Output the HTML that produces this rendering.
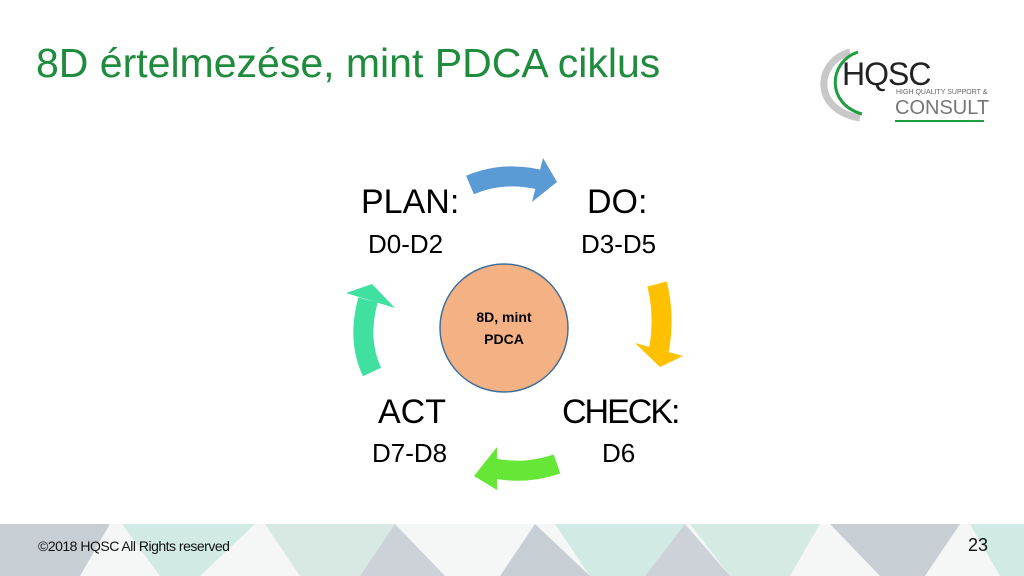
<!DOCTYPE html>
<html><head><meta charset="utf-8"><style>
body{margin:0}
#s{position:relative;width:1024px;height:576px;background:#fff;overflow:hidden;font-family:"Liberation Sans",sans-serif}
.t{position:absolute;white-space:nowrap}
</style></head><body><div id="s">
<svg width="1024" height="576" style="position:absolute;left:0;top:0">
<g opacity="0.9">
<rect x="0" y="524" width="1024" height="52" fill="#f4f6f6"/>
<polygon points="0,524 110,524 80,576 0,576" fill="#c3cad0"/>
<polygon points="122,524 255,524 200,576 160,576" fill="#cde8e0"/>
<polygon points="265,524 395,524 365,576 300,576" fill="#d4e6e0"/>
<polygon points="395,524 445,576 360,576" fill="#c8ced4"/>
<polygon points="535,524 590,576 500,576" fill="#c3cad0"/>
<polygon points="555,524 685,524 645,576 590,576" fill="#cde8e0"/>
<polygon points="685,524 730,576 645,576" fill="#c8ced4"/>
<polygon points="690,524 820,524 790,576 730,576" fill="#d0e8e0"/>
<polygon points="830,524 960,524 925,576 880,576" fill="#c3cad0"/>
<polygon points="970,524 1024,524 1024,576 1000,576" fill="#cde8e0"/>
</g>
<g fill="none" stroke-width="20">
<path d="M470,185 Q505,170 545,181" stroke="#5b9bd5"/>
<path d="M657,284 Q665,315 659,350" stroke="#ffc000"/>
<path d="M557,464 Q525,475 492,468" stroke="#66e637"/>
<path d="M372,372 Q357,340 368,300" stroke="#40e0a0"/>
</g>
<polygon points="543,158 557,182 532,202" fill="#5b9bd5"/>
<polygon points="635,343 683,356 660,367" fill="#ffc000"/>
<polygon points="497,447 474,476 497,490" fill="#66e637"/>
<polygon points="346,293 372,284 395,308" fill="#40e0a0"/>
<circle cx="504" cy="328" r="64" fill="#f4b183" stroke="#41719c" stroke-width="1.5"/>
<path d="M850,52 C815,62 812,110 860,118" fill="none" stroke="#c8c8c8" stroke-width="7"/>
<path d="M858,52 C828,62 826,104 862,114" fill="none" stroke="#1e9e3e" stroke-width="3"/>
<line x1="895" y1="121" x2="984" y2="121" stroke="#1e9e3e" stroke-width="2"/>
</svg>
<div class="t" style="left:36px;top:40px;font-size:41px;color:#1e8c3c">8D értelmezése, mint PDCA ciklus</div>
<div class="t" style="left:842px;top:56px;font-size:32px;color:#222;letter-spacing:-1px">HQSC</div>
<div class="t" style="left:896px;top:89px;font-size:7px;color:#666">HIGH QUALITY SUPPORT &amp;</div>
<div class="t" style="left:895px;top:97px;font-size:20px;color:#777">CONSULT</div>
<div class="t" style="left:361px;top:183px;font-size:34px;color:#000">PLAN:</div>
<div class="t" style="left:368px;top:229px;font-size:26px;color:#000">D0-D2</div>
<div class="t" style="left:587px;top:183px;font-size:34px;color:#000">DO:</div>
<div class="t" style="left:581px;top:229px;font-size:26px;color:#000">D3-D5</div>
<div class="t" style="left:378px;top:393px;font-size:34px;color:#000">ACT</div>
<div class="t" style="left:372px;top:438px;font-size:26px;color:#000">D7-D8</div>
<div class="t" style="left:562px;top:393px;font-size:34px;color:#000;letter-spacing:-2px">CHECK:</div>
<div class="t" style="left:602px;top:438px;font-size:26px;color:#000">D6</div>
<div class="t" style="left:454px;top:306px;width:100px;text-align:center;font-size:14px;font-weight:bold;line-height:22px;white-space:normal">8D, mint<br>PDCA</div>
<div class="t" style="left:38px;top:538px;font-size:14px;color:#111;letter-spacing:-0.5px">©2018 HQSC All Rights reserved</div>
<div class="t" style="left:968px;top:535px;font-size:18px;color:#111">23</div>
</div></body></html>
